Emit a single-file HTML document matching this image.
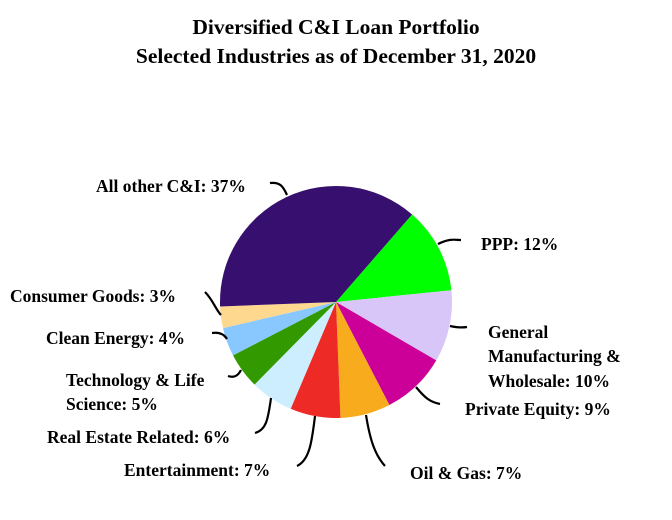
<!DOCTYPE html>
<html><head><meta charset="utf-8"><style>
body{margin:0;background:#fff;}
svg{display:block;font-family:"Liberation Serif",serif;font-weight:bold;}
</style></head><body>
<svg width="672" height="520" viewBox="0 0 672 520">
<text x="336" y="34" text-anchor="middle" font-size="21.5">Diversified C&amp;I Loan Portfolio</text>
<text x="336" y="63" text-anchor="middle" font-size="21.5">Selected Industries as of December 31, 2020</text>
<g id="slices"></g>
<g fill="none" stroke="#000" stroke-width="2.2">
<path d="M270 183 C280 182 283 186 287 195"/>
<path d="M438 244 C450 238 455 240 461 240"/>
<path d="M450 326 C455 327 460 328 467 327"/>
<path d="M416 387 C425 398 430 402 440 404"/>
<path d="M366 415 C370 440 375 455 385 466"/>
<path d="M315 416 C312 440 310 460 297 466"/>
<path d="M271 398 C268 420 266 430 255 433"/>
<path d="M241 370 C238 376 234 378 228 376"/>
<path d="M227 339 C224 334 219 332 212 333"/>
<path d="M221 315 C216 310 213 300 205 292"/>
</g>
<g font-size="17.5">
<text x="96" y="192">All other C&amp;I: 37%</text>
<text x="481" y="250">PPP: 12%</text>
<text x="488" y="338">General</text>
<text x="488" y="362">Manufacturing &amp;</text>
<text x="488" y="387">Wholesale: 10%</text>
<text x="465" y="415">Private Equity: 9%</text>
<text x="410" y="479">Oil &amp; Gas: 7%</text>
<text x="124" y="476">Entertainment: 7%</text>
<text x="47" y="443">Real Estate Related: 6%</text>
<text x="66" y="386">Technology &amp; Life</text>
<text x="66" y="410">Science: 5%</text>
<text x="46" y="344">Clean Energy: 4%</text>
<text x="10" y="302">Consumer Goods: 3%</text>
</g>
</svg>
<script>
const categories=["PPP","General Manufacturing & Wholesale","Private Equity","Oil & Gas","Entertainment","Real Estate Related","Technology & Life Science","Clean Energy","Consumer Goods","All other C&I"];
const values=[12,10,9,7,7,6,5,4,3,37];
const colors=["#00ff00","#d8c6f8","#cc0099","#f9ab1e","#ee2a26","#cdeeff","#339900","#88c8ff","#ffd890","#37106f"];
const cx=336,cy=302,r=116,start=41;
const g=document.getElementById('slices');
const total=values.reduce((a,b)=>a+b,0);
let a=start;
function pt(deg){const t=deg*Math.PI/180;return [cx+r*Math.sin(t),cy-r*Math.cos(t)];}
values.forEach((v,i)=>{
 const sweep=v/total*360;
 const p1=pt(a),p2=pt(a+sweep);
 const path=document.createElementNS('http://www.w3.org/2000/svg','path');
 path.setAttribute('d',`M${cx},${cy} L${p1[0]},${p1[1]} A${r},${r} 0 ${sweep>180?1:0} 1 ${p2[0]},${p2[1]} Z`);
 path.setAttribute('fill',colors[i]);
 
 
 g.appendChild(path);
 a+=sweep;
});
</script>
</body></html>
